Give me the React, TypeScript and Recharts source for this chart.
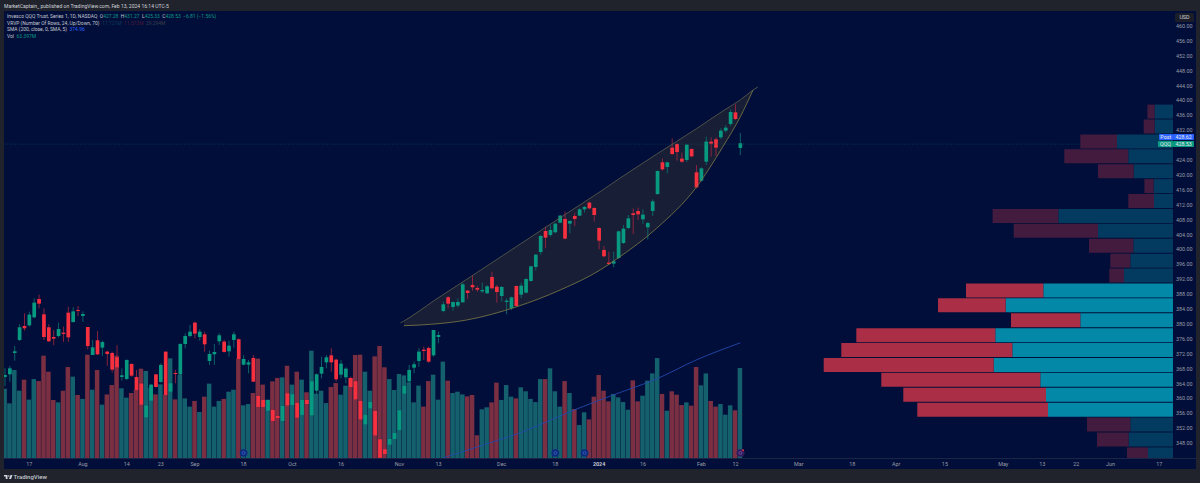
import React from "react";
import { ComposedChart, BarChart, Bar, Line, Area, Cell, XAxis, YAxis, ReferenceLine, ReferenceDot } from "recharts";

const opens = [365.80,366.51,372.24,375.73,379.48,379.66,381.81,386.73,382.62,379.13,
376.53,376.80,377.70,383.06,380.56,383.78,382.17,379.22,371.70,375.64,
373.67,372.60,372.24,371.08,365.80,365.26,369.29,365.80,364.01,354.97,
359.44,366.51,364.46,372.60,361.86,366.87,366.51,374.65,376.80,380.38,
376.53,377.25,370.09,371.88,375.37,375.28,372.69,375.73,375.91,369.11,
369.11,370.90,360.70,359.62,356.76,356.94,355.33,353.99,361.41,358.28,
358.82,355.60,359.62,355.51,362.13,366.69,369.73,371.61,370.45,366.42,
365.71,365.53,364.63,359.36,353.09,357.39,356.67,349.07,346.38,347.64,
349.16,351.57,361.32,364.63,368.30,370.09,373.13,373.58,371.61,376.53,
383.51,387.18,384.59,384.95,385.84,388.97,390.49,389.69,388.79,388.26,
392.64,390.04,387.54,385.93,384.23,390.22,387.90,388.43,391.57,395.32,
399.35,404.98,403.91,404.63,407.22,408.21,406.95,409.01,409.10,410.80,
412.59,411.16,405.79,399.89,396.49,396.22,397.74,401.76,405.79,409.73,
410.35,408.12,405.97,410.35,414.91,423.41,422.16,427.35,428.33,424.40,
424.04,426.99,420.73,418.49,423.59,428.96,429.59,430.12,431.91,433.70,
436.83,427.28];
const highs = [368.12,368.75,374.12,379.93,382.88,383.33,386.91,387.89,384.23,379.93,
378.41,380.38,379.31,384.67,384.49,384.85,383.42,379.22,375.73,378.14,
375.55,372.86,372.60,374.30,368.12,370.54,369.46,367.68,364.54,359.62,
363.92,366.51,369.46,372.60,364.99,367.68,374.83,377.52,379.75,380.65,
378.59,377.96,372.86,374.65,377.52,375.73,375.55,377.96,376.17,371.70,
370.36,371.70,360.97,360.07,359.62,357.39,357.39,359.18,361.86,361.59,
359.18,360.07,361.41,364.99,366.78,371.25,371.70,373.49,370.72,370.36,
368.39,365.89,364.99,359.62,357.83,361.41,356.94,349.07,347.55,349.78,
351.57,357.39,364.10,369.02,369.91,373.49,373.94,373.94,378.41,377.96,
386.02,387.54,386.02,386.91,391.12,389.15,393.18,390.22,391.12,390.49,
394.07,390.49,390.22,386.91,387.36,390.31,391.12,392.28,395.68,398.81,
403.91,406.15,406.59,407.22,409.28,410.17,407.94,409.90,411.07,411.69,
412.86,411.34,405.97,400.96,399.44,399.44,405.07,406.59,409.28,411.07,
411.25,410.80,407.49,413.48,421.18,424.49,423.59,429.85,428.51,426.01,
428.24,427.17,422.70,422.07,430.30,430.12,430.12,432.54,433.43,437.64,
438.98,431.27];
const lows = [363.38,364.54,370.18,375.46,378.23,379.31,381.54,384.23,375.73,375.19,
374.30,376.44,375.19,375.19,380.38,382.17,380.56,373.22,371.70,371.70,
371.43,368.75,366.96,365.89,364.81,364.99,365.89,359.62,358.28,354.70,
358.28,363.02,364.28,360.70,360.97,364.10,366.33,373.49,376.44,376.17,
375.55,372.60,369.02,369.02,374.39,372.33,371.25,373.67,370.36,368.93,
366.78,364.46,357.57,357.57,356.49,353.54,353.81,353.36,357.83,357.83,
354.61,355.15,357.12,355.15,360.97,365.44,368.12,367.23,364.54,365.44,
364.10,361.41,359.62,354.08,351.57,355.60,349.96,344.10,344.42,346.21,
347.99,351.13,360.07,364.10,366.78,368.57,370.36,369.64,371.25,374.83,
383.16,384.23,383.60,384.41,385.75,386.73,388.97,388.61,388.26,388.08,
389.33,385.75,386.02,382.62,383.78,384.68,386.91,388.26,391.39,394.34,
398.63,400.33,403.46,404.36,407.04,402.75,404.36,406.33,409.01,409.90,
410.80,407.49,400.06,397.92,395.86,395.23,397.47,401.50,405.43,404.18,
407.94,406.86,402.75,409.01,414.65,421.18,420.46,425.38,423.86,423.32,
423.50,424.76,416.44,418.22,422.70,424.93,425.11,429.59,431.38,433.16,
434.77,425.33];
const closes = [366.33,368.12,372.69,379.13,378.86,382.53,385.75,385.48,376.53,375.37,
376.09,378.68,377.34,376.44,383.42,383.51,382.71,374.12,373.76,371.88,
375.19,371.97,367.77,368.39,366.24,370.36,366.15,362.31,358.37,358.10,
363.74,363.11,369.02,360.97,364.10,366.60,374.65,376.80,377.96,377.43,
377.96,374.56,371.97,372.51,376.98,372.51,374.21,377.25,370.63,370.63,
369.73,364.54,357.75,357.75,359.62,353.99,354.79,358.01,358.19,361.15,
354.88,359.62,358.55,364.63,366.51,368.48,371.08,369.73,365.17,369.38,
368.03,363.11,359.80,354.44,355.60,359.09,350.14,344.10,345.13,349.16,
350.77,356.85,363.38,367.68,369.20,372.60,372.78,369.91,378.41,377.07,
385.30,385.48,385.93,385.93,390.67,388.34,389.87,389.24,389.15,390.13,
389.60,388.61,389.95,386.29,387.18,384.86,390.31,392.10,395.50,398.63,
403.64,403.20,405.25,406.95,409.10,402.93,407.67,408.21,410.80,411.43,
411.07,409.28,402.39,398.19,396.13,396.84,404.89,405.61,408.38,409.28,
409.46,409.37,407.13,412.95,421.09,421.53,423.41,425.65,426.19,423.59,
428.15,425.02,416.70,421.80,428.96,428.42,427.35,431.91,432.72,436.92,
435.04,428.53];
const volumes = [48.8,38.5,62.0,47.4,55.2,41.1,55.6,54.2,72.1,60.8,
40.9,39.2,47.4,64.1,57.3,44.4,41.6,72.8,48.1,62.0,
37.6,44.8,51.4,72.1,49.1,42.5,45.8,48.1,62.9,61.3,
49.3,44.8,51.9,44.6,70.2,41.3,58.7,42.0,36.2,40.2,
32.4,43.2,52.4,36.2,40.2,41.6,46.7,48.1,70.0,37.1,
38.0,45.8,70.0,51.7,41.1,54.0,56.4,56.8,65.0,51.7,
60.8,55.2,46.3,75.6,45.3,47.4,38.7,50.0,52.8,44.6,
51.0,56.4,72.6,72.8,60.8,47.4,71.6,78.9,63.9,55.6,
47.9,59.2,58.2,53.3,39.2,51.0,36.2,54.2,58.7,41.1,
67.9,54.5,45.8,46.7,44.8,43.4,44.4,16.0,34.3,35.7,
39.2,53.1,40.9,51.4,43.2,42.0,49.8,47.0,41.6,39.4,
55.6,55.6,63.2,47.0,36.2,54.2,45.8,34.5,23.2,32.2,
27.2,43.2,58.5,47.4,39.9,45.1,42.7,39.4,34.0,54.7,
39.9,43.9,54.5,59.6,70.4,45.1,33.3,47.0,44.6,37.3,
39.2,36.9,64.1,51.2,59.6,40.2,36.2,38.0,30.5,37.1,
33.6,63.4];

const xTickIndex = [5,16,25,32,39,49,59,69,81,89,102,113,122,131,143,150,163,174,183,193,205,213,220,227,237];
const xTickLabels = ["17","Aug","14","23","Sep","18","Oct","16","Nov","13","Dec","18","2024","16","Feb","12","Mar","18","Apr","15","May","13","22","Jun","17"];
const priceTicks = [460,456,452,448,444,440,436,432,424,420,416,412,408,404,400,396,392,388,384,380,376,372,368,364,360,356,352,348];

const smaIndex = [90,100,107,112,117,125,134,142,151];
const smaValues = [344.1,348.3,351.4,354.2,357.0,361.0,365.4,370.4,374.96];

const wedgeIndex = [81.2,81.9,88.3,94.8,105.1,114,122.2,125.9,133.8,142.04,147.4,151,153.6,154.6];
const wedgeUpper = [380.29,380.8,386.46,392.01,400.87,408.55,415.53,418.83,425.6,432.49,437.19,440.17,442.82,443.63];
const wedgeLower = [null,379.56,380.02,381.09,384.66,389.14,394.51,397.73,405.7,416.87,427.6,435.66,442.82,null];

const vrvpRows = [435,431,427,423,419,415,411,407,403,399,395,391,387,383,379,375,371,367,363,359,355,351,347,343];
const vrvpUp = [18.3,18.3,56,44.7,39.3,19.3,19,114.7,75,39.7,42.7,49,129.7,167.3,92.7,177.7,160.7,179.3,132.7,127,125,42.7,44.3,25];
const vrvpDown = [7.3,11,36.7,64,35.7,9.3,25.7,65.7,84.3,44.3,20,14.7,77.3,67.7,69.3,139,171,170,159,142.7,130.7,43.3,31.7,21];
const vrvpBright = [387,383,379,375,371,367,363,359,355];

const dividendIndex = [49,113,119];
const earningsIndex = 151;

const bars = opens.map((o, i) => ({ i, o, h: highs[i], l: lows[i], c: closes[i], v: volumes[i] }));
const smaRows = smaIndex.map((i, k) => ({ i, sma: smaValues[k] }));
const wedgeRows = wedgeIndex.map((i, k) => ({ i, upper: wedgeUpper[k], lower: wedgeLower[k] }));
const wedgeFillRows = wedgeRows.filter((r) => r.lower !== null);
const vrvp = vrvpRows.map((row, k) => ({ row, up: vrvpUp[k], down: vrvpDown[k] }));

const NAVY = "#010e39";
const FRAME = "#20232b";
const UP = "#089981";
const DOWN = "#f7303f";
const FONT = "Roboto, 'Liberation Sans', sans-serif";

const Candle = (p: any) => {
  const { x, y, width, height, payload } = p;
  const { o, h, l, c } = payload;
  const k = height / (h - l || 1);
  const cx = x + width / 2;
  const top = y + (h - Math.max(o, c)) * k;
  const bodyH = Math.max(Math.abs(o - c) * k, 1);
  const up = c >= o;
  return (
    <g>
      <line x1={cx} x2={cx} y1={y} y2={y + height} stroke={up ? "#0c6a6c" : "#9a2440"} strokeWidth={0.9} />
      <rect x={cx - 1.85} y={top} width={3.7} height={bodyH} fill={up ? UP : DOWN} />
    </g>
  );
};

const VolumeBar = (p: any) => {
  const { x, y, width, height, payload } = p;
  const cx = x + width / 2;
  return <rect x={cx - 2.25} y={y} width={4.5} height={height} fill={payload.c >= payload.o ? "#15606d" : "#7a2f42"} />;
};

const XTick = (p: any) => {
  const { x, payload } = p;
  const k = xTickIndex.indexOf(payload.value);
  const label = xTickLabels[k];
  const bold = label === "2024";
  return (
    <text x={x} y={465.5} textAnchor="middle" fontSize={5.4} fontFamily={FONT}
      fontWeight={bold ? 700 : 400} fill={bold ? "#c4c7cf" : "#9a9da6"}>{label}</text>
  );
};

const Dividend = (p: any) => (
  <g>
    <circle cx={p.cx} cy={p.cy} r={3.8} fill="#0c2a78" stroke="#1c3f9e" strokeWidth={0.5} strokeDasharray="1 0.6" />
    <circle cx={p.cx} cy={p.cy} r={1.5} fill="none" stroke="#3f6ad0" strokeWidth={0.7} />
  </g>
);
const Earnings = (p: any) => (
  <g>
    <circle cx={p.cx} cy={p.cy} r={3.8} fill="#2b1a55" stroke="#5c2f86" strokeWidth={0.6} strokeDasharray="1 0.6" />
    <circle cx={p.cx} cy={p.cy} r={1.5} fill="none" stroke="#8a5cc0" strokeWidth={0.7} />
    <circle cx={p.cx + 2.7} cy={p.cy - 2.7} r={0.9} fill="#f7303f" />
  </g>
);

const textLine = (top: number): React.CSSProperties => ({
  position: "absolute", left: 7, top, fontFamily: FONT, fontSize: 4.95, lineHeight: "7px",
  color: "#c5c8d0", whiteSpace: "pre",
});
const T = ({ c, children }: { c: string; children: React.ReactNode }) => <span style={{ color: c }}>{children}</span>;
const TEAL = "#0a9a88";

const Tag = ({ left, top, width, bg, children }: any) => (
  <div style={{ position: "absolute", left, top, width, height: 6.4, background: bg, color: "#e8eaf0",
    fontFamily: FONT, fontSize: 5.3, lineHeight: "6.4px", textAlign: "center", borderRadius: 0.8 }}>{children}</div>
);

export default function App() {
  return (
    <div style={{ position: "absolute", left: 0, top: 0, width: 1200, height: 483, background: FRAME, overflow: "hidden" }}>
      <div style={{ position: "absolute", left: 4, top: 11, width: 1192, height: 458, background: NAVY }} />
      <div style={{ position: "absolute", left: 4, top: 458, width: 1192, height: 0.6, background: "#1b2545" }} />

      <div style={{ position: "absolute", left: 0, top: 0 }}>
        <ComposedChart width={1200} height={483} data={bars} margin={{ top: 11, left: 4, right: 3, bottom: 14 }}>
          <XAxis xAxisId="x" dataKey="i" type="number" domain={[-0.205, 239.84]} allowDataOverflow ticks={xTickIndex}
            interval={0} height={11} tickSize={0} tick={<XTick />} axisLine={false} />
          <XAxis xAxisId="vx" dataKey="i" type="number" domain={[-0.205, 239.84]} allowDataOverflow hide />
          <YAxis yAxisId="p" orientation="right" type="number" domain={[344.05, 464.03]} allowDataOverflow width={24}
            ticks={priceTicks} interval={0} tickSize={0} tickMargin={3} axisLine={false}
            tickFormatter={(v: number) => v.toFixed(2)}
            tick={{ fontSize: 5.4, fontFamily: FONT, fill: "#9a9da6" }} />
          <YAxis yAxisId="v" type="number" domain={[0, 314.9]} allowDataOverflow hide />

          <Bar xAxisId="vx" yAxisId="v" dataKey="v" barSize={4} shape={<VolumeBar />} isAnimationActive={false} />
          <ReferenceLine xAxisId="x" yAxisId="p" y={428.3} stroke="#0f5c68" strokeWidth={0.6} strokeDasharray="1 1.6" />
          <Area xAxisId="x" yAxisId="p" data={wedgeFillRows} dataKey={(r: any) => [r.lower, r.upper]} type="monotone"
            fill="#181e36" fillOpacity={1} stroke="none" isAnimationActive={false} />
          <Bar xAxisId="x" yAxisId="p" dataKey={(b: any) => [b.l, b.h]} barSize={4} shape={<Candle />} isAnimationActive={false} />
          <Line xAxisId="x" yAxisId="p" data={smaRows} dataKey="sma" type="monotone" stroke="#2448ac" strokeWidth={0.9} dot={false} isAnimationActive={false} />
          <Line xAxisId="x" yAxisId="p" data={wedgeRows} dataKey="upper" type="monotone" connectNulls stroke="#5d604f" strokeWidth={0.8} dot={false} isAnimationActive={false} />
          <Line xAxisId="x" yAxisId="p" data={wedgeRows} dataKey="lower" type="monotone" connectNulls stroke="#7f7c45" strokeWidth={0.8} dot={false} isAnimationActive={false} />
          {dividendIndex.map((i) => (
            <ReferenceDot key={i} xAxisId="x" yAxisId="p" x={i} y={345.4} r={3.8} shape={<Dividend />} />
          ))}
          <ReferenceDot xAxisId="x" yAxisId="p" x={earningsIndex} y={345.4} r={3.8} shape={<Earnings />} />
        </ComposedChart>
      </div>

      <div style={{ position: "absolute", left: 823, top: 104, width: 350, height: 354, overflow: "hidden" }}>
        <BarChart layout="vertical" width={350} height={357.7} data={vrvp} margin={{ top: 0, left: 0, right: 0, bottom: 0 }}
          barCategoryGap="4%">
          <XAxis type="number" domain={[0, 350]} reversed hide />
          <YAxis type="category" dataKey="row" hide />
          <Bar dataKey="up" stackId="a" isAnimationActive={false}>
            {vrvp.map((r) => <Cell key={r.row} fill={vrvpBright.includes(r.row) ? "#0388a8" : "#033a5f"} />)}
          </Bar>
          <Bar dataKey="down" stackId="a" isAnimationActive={false}>
            {vrvp.map((r) => <Cell key={r.row} fill={vrvpBright.includes(r.row) ? "#aa2e45" : "#421b3f"} />)}
          </Bar>
        </BarChart>
      </div>

      <div style={{ ...textLine(3), left: 4, color: "#d1d4dc", fontSize: 5.05 }}>MarketCaptain_ published on TradingView.com, Feb 13, 2024 16:14 UTC-5</div>
      <div style={textLine(13)}>
        Invesco QQQ Trust, Series 1, 1D, NASDAQ{"  "}O<T c={TEAL}>427.28</T>{"  "}H<T c={TEAL}>431.27</T>{"  "}L<T c={TEAL}>425.33</T>{"  "}C<T c={TEAL}>428.53</T>{"  "}<T c={TEAL}>−6.81 (−1.56%)</T>
      </div>
      <div style={textLine(19.7)}>
        VRVP (Number Of Rows, 24, Up/Down, 70){"  "}<T c="#0b3f5c">17.721M</T>{"  "}<T c="#4d1a38">11.573M</T>{"  "}<T c="#3b3e4c">29.294M</T>
      </div>
      <div style={textLine(26.3)}>
        SMA (200, close, 0, SMA, 5){"  "}<T c="#2962ff">374.96</T>
      </div>
      <div style={textLine(33)}>
        Vol{"  "}<T c={TEAL}>63.397M</T>
      </div>

      <div style={{ position: "absolute", left: 1175, top: 13, width: 19, height: 9, background: "#1b1e27", borderRadius: 1.5,
        color: "#d1d4dc", fontFamily: FONT, fontSize: 5.4, lineHeight: "9px", textAlign: "center" }}>USD</div>

      <Tag left={1158.5} top={134} width={14.5} bg="#2962ff">Post</Tag>
      <Tag left={1173} top={134} width={21.3} bg="#2962ff">428.62</Tag>
      <Tag left={1158} top={140.7} width={15} bg="#089981">QQQ</Tag>
      <Tag left={1173} top={140.7} width={21.3} bg="#089981">428.53</Tag>

      <svg style={{ position: "absolute", left: 4, top: 473.5 }} width={9} height={6} viewBox="0 0 36 20">
        <path d="M0 2h14v16H7V8H0z M26 2h8l-6 16h-8z" fill="#d1d4dc" />
        <circle cx="19" cy="6" r="3" fill="#d1d4dc" />
      </svg>
      <div style={{ position: "absolute", left: 13.5, top: 473, fontFamily: FONT, fontSize: 6, fontWeight: 500, lineHeight: "7px", color: "#c5c8d0" }}>TradingView</div>
    </div>
  );
}
